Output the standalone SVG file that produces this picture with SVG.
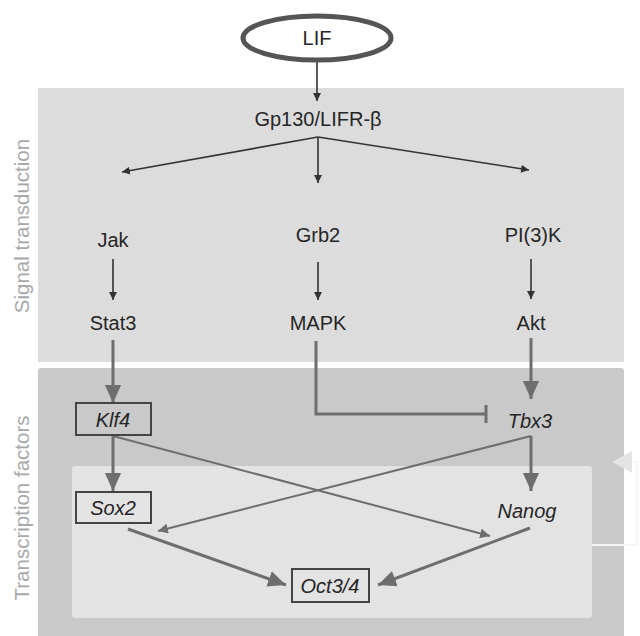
<svg xmlns="http://www.w3.org/2000/svg" width="640" height="636" viewBox="0 0 640 636">
<style>
text{font-family:"Liberation Sans",Arial,sans-serif;font-size:20px;fill:#262626;text-anchor:middle}
.it{font-style:italic}
.side{fill:#a8a8a8;font-size:20.5px}
.thin{stroke:#333;stroke-width:1.6;fill:none}
.thick{stroke:#6e6e6e;stroke-width:3;fill:none}
.mid{stroke:#6e6e6e;stroke-width:2;fill:none}
.box{fill:none;stroke:#444;stroke-width:2}
</style>
<defs>
<marker id="a" viewBox="0 0 10 10" refX="10" refY="5" markerWidth="8" markerHeight="8" markerUnits="userSpaceOnUse" orient="auto"><path d="M0,0L10,5L0,10z" fill="#333"/></marker>
<marker id="g" viewBox="0 0 10 10" refX="10" refY="5" markerWidth="18" markerHeight="18" markerUnits="userSpaceOnUse" orient="auto"><path d="M0,0.5L10,5L0,9.5z" fill="#6e6e6e"/></marker>
<marker id="gs" viewBox="0 0 10 10" refX="10" refY="5" markerWidth="10" markerHeight="10" markerUnits="userSpaceOnUse" orient="auto"><path d="M0,0L10,5L0,10z" fill="#6e6e6e"/></marker>
</defs>
<rect width="640" height="636" fill="#fff"/>
<g id="panels">
<rect x="38" y="88" width="586" height="274" fill="#dcdcdd"/>
<rect x="38" y="368" width="586" height="270" rx="3" fill="#c9c9ca"/>
<rect x="72" y="466" width="520" height="152" rx="3" fill="#e3e3e4"/>
<text class="side" transform="translate(29,226) rotate(-90)">Signal transduction</text>
<text class="side" transform="translate(29,508) rotate(-90)">Transcription factors</text>
</g>
<g id="connectors">
<line class="thin" x1="317" y1="60" x2="317" y2="101" marker-end="url(#a)"/>
<line class="thin" x1="318" y1="137" x2="122" y2="172" marker-end="url(#a)"/>
<line class="thin" x1="318" y1="137" x2="318" y2="183" marker-end="url(#a)"/>
<line class="thin" x1="318" y1="137" x2="529" y2="170" marker-end="url(#a)"/>
<line class="thin" x1="113" y1="259" x2="113" y2="300" marker-end="url(#a)"/>
<line class="thin" x1="318" y1="262" x2="318" y2="300" marker-end="url(#a)"/>
<line class="thin" x1="531" y1="259" x2="531" y2="299" marker-end="url(#a)"/>
<line class="thick" x1="113" y1="340" x2="113" y2="403" marker-end="url(#g)"/>
<polyline class="thick" points="316,341 316,414 486,414"/>
<line class="thick" x1="486" y1="405" x2="486" y2="423"/>
<line class="thick" x1="531" y1="338" x2="531" y2="399" marker-end="url(#g)"/>
<line class="thick" x1="113" y1="436" x2="113" y2="491" marker-end="url(#g)"/>
<line class="mid" x1="113" y1="436" x2="490" y2="536" marker-end="url(#gs)"/>
<line class="mid" x1="531" y1="436" x2="158" y2="531" marker-end="url(#gs)"/>
<line class="thick" x1="531" y1="436" x2="531" y2="491" marker-end="url(#g)"/>
<line class="thick" x1="128" y1="529" x2="286" y2="585" marker-end="url(#g)"/>
<line class="thick" x1="530" y1="528" x2="378" y2="585" marker-end="url(#g)"/>
<polyline points="592,545 637,545 637,462 622,462" fill="none" stroke="#f6f6f6" stroke-width="2"/>
<path d="M612,462L632,451L632,473z" fill="#e4e4e4"/>
</g>
<g id="LIF"><ellipse cx="317" cy="38" rx="74" ry="22" fill="#fff" stroke="#555" stroke-width="5"/><text x="317" y="45">LIF</text></g>
<g id="Gp130"><text x="318" y="126">Gp130/LIFR-β</text></g>
<g id="Jak"><text x="113" y="247">Jak</text></g>
<g id="Grb2"><text x="318" y="242">Grb2</text></g>
<g id="PI3K"><text x="533" y="242">PI(3)K</text></g>
<g id="Stat3"><text x="113" y="330">Stat3</text></g>
<g id="MAPK"><text x="318" y="330">MAPK</text></g>
<g id="Akt"><text x="531" y="330">Akt</text></g>
<g id="Klf4"><rect class="box" x="76" y="403" width="75" height="32"/><text class="it" x="113" y="427">Klf4</text></g>
<g id="Tbx3"><text class="it" x="530" y="428">Tbx3</text></g>
<g id="Sox2"><rect class="box" x="76" y="492" width="75" height="31"/><text class="it" x="113" y="515">Sox2</text></g>
<g id="Nanog"><text class="it" x="527" y="518">Nanog</text></g>
<g id="Oct34"><rect class="box" x="292" y="569" width="77" height="33"/><text class="it" x="330" y="593">Oct3/4</text></g>
</svg>
